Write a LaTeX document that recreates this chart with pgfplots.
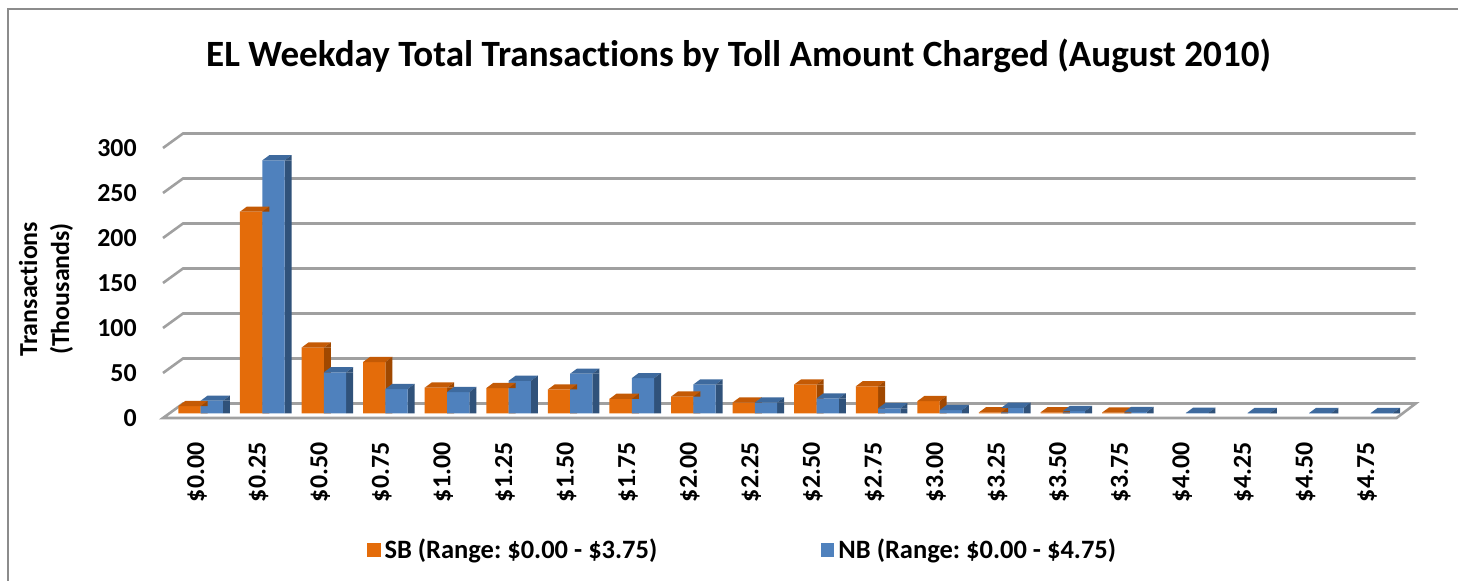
\documentclass[border=0pt]{standalone}
\usepackage{fontspec}
\setmainfont{Carlito}[Ligatures=NoCommon]
\usepackage{pgfplots}
\pgfplotsset{compat=1.18}
\usepackage{pgfplotstable}
\frenchspacing

\definecolor{sbfront}{HTML}{E46C0A}
\definecolor{sbtop}{HTML}{C45A05}
\definecolor{sbside}{HTML}{A04800}
\definecolor{nbfront}{HTML}{4F81BD}
\definecolor{nbtop}{HTML}{3E6A9E}
\definecolor{nbside}{HTML}{30527A}
\definecolor{gridgray}{HTML}{A0A0A0}
\definecolor{framegray}{HTML}{8C8C8C}

% top face (+ upper triangle of side face) of SB bars, relative to (category, value)
\pgfdeclareplotmark{sbtopface}{%
  \pgfsetfillcolor{sbtop}%
  \pgfpathmoveto{\pgfpoint{-11.15bp}{0bp}}%
  \pgfpathlineto{\pgfpoint{0bp}{0bp}}%
  \pgfpathlineto{\pgfpoint{3.5bp}{2.6bp}}%
  \pgfpathlineto{\pgfpoint{-7.65bp}{2.6bp}}%
  \pgfpathclose\pgfusepathqfill
  \pgfsetfillcolor{sbside}%
  \pgfpathmoveto{\pgfpoint{0bp}{0bp}}%
  \pgfpathlineto{\pgfpoint{3.5bp}{0bp}}%
  \pgfpathlineto{\pgfpoint{3.5bp}{2.6bp}}%
  \pgfpathclose\pgfusepathqfill}
\pgfdeclareplotmark{nbtopface}{%
  \pgfsetfillcolor{nbtop}%
  \pgfpathmoveto{\pgfpoint{0bp}{0bp}}%
  \pgfpathlineto{\pgfpoint{11.15bp}{0bp}}%
  \pgfpathlineto{\pgfpoint{14.65bp}{2.6bp}}%
  \pgfpathlineto{\pgfpoint{3.5bp}{2.6bp}}%
  \pgfpathclose\pgfusepathqfill
  \pgfsetfillcolor{nbside}%
  \pgfpathmoveto{\pgfpoint{11.15bp}{0bp}}%
  \pgfpathlineto{\pgfpoint{14.65bp}{0bp}}%
  \pgfpathlineto{\pgfpoint{14.65bp}{2.6bp}}%
  \pgfpathclose\pgfusepathqfill}

% SB: toll $0.00 - $3.75 (index 0..15), thousands of transactions
\pgfplotstableread{
x  sb
0  8
1  224
2  73
3  57
4  28.5
5  28
6  26.5
7  16
8  18.5
9  12
10 32
11 30
12 13.5
13 1
14 1
15 0.8
}\sbdata
% NB: toll $0.00 - $4.75 (index 0..19)
\pgfplotstableread{
x  nb
0  14
1  281
2  45.5
3  27
4  23.5
5  36
6  44
7  39
8  32
9  12
10 16.5
11 5.5
12 3.5
13 6
14 2.5
15 1.5
16 0.4
17 0.3
18 0.3
19 0.3
}\nbdata

\begin{document}
\begin{tikzpicture}
\useasboundingbox (0,0) rectangle (729bp,290.5bp);
\draw[framegray, line width=1bp] (4bp,-1bp) -- (4bp,286bp) -- (730bp,286bp);

\node[font=\bfseries\fontsize{18.6}{21}\selectfont] at (369.25bp,262.5bp)
  {EL Weekday Total Transactions by Toll Amount Charged (August 2010)};
\node[font=\bfseries\fontsize{13}{16}\selectfont, align=center, rotate=90]
  at (23bp,146bp) {Transactions\\(Thousands)};

\begin{axis}[
  at={(84.95bp,79.35bp)}, anchor=south west,
  scale only axis, width=615.8bp, height=148.5bp,
  xmin=-0.5, xmax=19.5, ymin=-10, ymax=320,
  clip=false,
  axis line style={draw=none},
  tick style={draw=none},
  xtick={-0.06,0.94,1.94,2.94,3.94,4.94,5.94,6.94,7.94,8.94,9.94,10.94,11.94,12.94,13.94,14.94,15.94,16.94,17.94,18.94},
  xticklabels={\$0.00,\$0.25,\$0.50,\$0.75,\$1.00,\$1.25,\$1.50,\$1.75,\$2.00,\$2.25,
               \$2.50,\$2.75,\$3.00,\$3.25,\$3.50,\$3.75,\$4.00,\$4.25,\$4.50,\$4.75},
  ytick={-5.22,44.78,94.78,144.78,194.78,244.78,294.78},
  yticklabels={0,50,100,150,200,250,300},
  xticklabel style={rotate=90, anchor=east, inner sep=0pt,
     font=\bfseries\fontsize{13}{15}\selectfont},
  yticklabel style={anchor=east, inner sep=0pt,
     font=\bfseries\fontsize{13}{15}\selectfont},
  xticklabel shift=10bp,
  yticklabel shift=16.4bp,
  legend columns=2,
  legend style={at={(0.16,-0.43)}, anchor=west, draw=none, fill=none,
     inner sep=0pt, font=\bfseries\fontsize{13.3}{15}\selectfont,
     /tikz/every even column/.append style={column sep=80bp}},
]
% floor and back-wall gridlines
\draw[gridgray, line width=1.3bp, fill=white]
  (axis cs:-0.612,-5.22) -- (axis cs:19.42,-5.22) -- (axis cs:19.73,10.9) -- (axis cs:-0.287,10.9) -- cycle;
\draw[gridgray, line width=1.3bp] (axis cs:-0.612,44.78) -- (axis cs:-0.287,60.9) -- (axis cs:19.73,60.9);
\draw[gridgray, line width=1.3bp] (axis cs:-0.612,94.78) -- (axis cs:-0.287,110.9) -- (axis cs:19.73,110.9);
\draw[gridgray, line width=1.3bp] (axis cs:-0.612,144.78) -- (axis cs:-0.287,160.9) -- (axis cs:19.73,160.9);
\draw[gridgray, line width=1.3bp] (axis cs:-0.612,194.78) -- (axis cs:-0.287,210.9) -- (axis cs:19.73,210.9);
\draw[gridgray, line width=1.3bp] (axis cs:-0.612,244.78) -- (axis cs:-0.287,260.9) -- (axis cs:19.73,260.9);
\draw[gridgray, line width=1.3bp] (axis cs:-0.612,294.78) -- (axis cs:-0.287,310.9) -- (axis cs:19.73,310.9);

% SB bars: side, top, front
\addplot[ybar, bar width=3.5bp, bar shift=1.75bp, fill=sbside, draw=none, forget plot]
  table[x=x, y=sb] {\sbdata};
\addplot[only marks, mark=sbtopface, forget plot] table[x=x, y=sb] {\sbdata};
\addplot[ybar, bar width=11.15bp, bar shift=-5.575bp, fill=sbfront, draw=none,
  legend image code/.code={\fill[sbfront] (0bp,-3.4bp) rectangle (6.6bp,3.4bp);}]
  table[x=x, y=sb] {\sbdata};
\addlegendentry{SB (Range: \$0.00 - \$3.75)}
% NB bars: side, top, front
\addplot[ybar, bar width=3.5bp, bar shift=12.9bp, fill=nbside, draw=none, forget plot]
  table[x=x, y=nb] {\nbdata};
\addplot[only marks, mark=nbtopface, forget plot] table[x=x, y=nb] {\nbdata};
\addplot[ybar, bar width=11.15bp, bar shift=5.575bp, fill=nbfront, draw=none,
  legend image code/.code={\fill[nbfront] (0bp,-3.4bp) rectangle (6.6bp,3.4bp);}]
  table[x=x, y=nb] {\nbdata};
\addlegendentry{NB (Range: \$0.00 - \$4.75)}
\end{axis}
\end{tikzpicture}
\end{document}
